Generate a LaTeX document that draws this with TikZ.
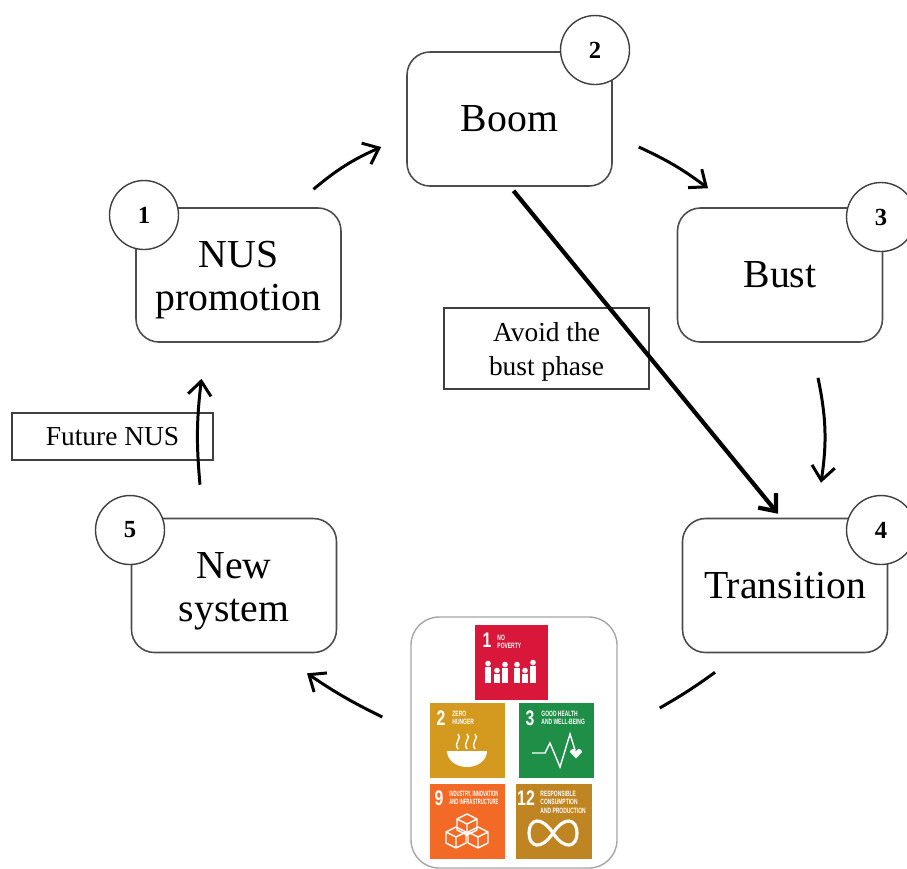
\documentclass[tikz,border=0pt]{standalone}
\usepackage{fontspec}
\setmainfont{Liberation Serif}
\newfontfamily\sdgfont{Liberation Sans}
\usetikzlibrary{arrows.meta}
\definecolor{sdgred}{HTML}{D9173A}
\definecolor{sdggold}{HTML}{D39A1F}
\definecolor{sdggreen}{HTML}{1F8F48}
\definecolor{sdgorange}{HTML}{F26A25}
\definecolor{sdgbrown}{HTML}{BF8522}
\tikzset{
    phase/.style={draw=black!70,line width=0.45pt,rounded corners=2.3mm,minimum width=2.05cm,minimum height=1.34cm,align=center,font=\fontsize{11.3}{12.2}\selectfont,inner sep=0pt},
    badge/.style={draw=black!75,fill=white,circle,line width=0.4pt,minimum size=0.69cm,inner sep=0pt,font=\fontsize{7}{8}\selectfont\bfseries},
    note/.style={draw=black!75,line width=0.4pt,align=center,inner sep=0pt,font=\fontsize{7.8}{9.6}\selectfont},
    flow/.style={line width=0.85pt,-{Straight Barb[length=1.4mm,width=2.3mm]}},
    sdg/.style={minimum width=#1,minimum height=0.75cm,inner sep=0pt},
    sdgnum/.style={text=white,inner sep=0pt,xscale=0.75,transform shape,font=\sdgfont\fontsize{6}{6}\selectfont\bfseries},
    sdgtext/.style={text=white,inner sep=0pt,anchor=north west,align=left,xscale=0.64,transform shape,font=\sdgfont\fontsize{2.2}{2.45}\selectfont\bfseries},
    icon/.style={white,line width=0.4pt}
}
\begin{document}
\begin{tikzpicture}
    \useasboundingbox (0,0) rectangle (9.07,-8.68);
    % The five phases of the cycle
    \node[phase] (boom) at (5.095,-1.19) {Boom};
    \node[phase] (bust) at (7.80,-2.75) {Bust};
    \node[phase] (transition) at (7.85,-5.855) {Transition};
    \node[phase] (newsystem) at (2.34,-5.855) {\rule{0pt}{10.6pt}New\\system};
    \node[phase] (nus) at (2.385,-2.75) {\rule{0pt}{10.4pt}NUS\\promotion};
    % Numbered circles on the corners
    \node[badge] (badgeone) at (1.44,-2.15) {1};
    \node[badge] (badgetwo) at (5.95,-0.50) {2};
    \node[badge] (badgethree) at (8.81,-2.17) {3};
    \node[badge] (badgefour) at (8.81,-5.30) {4};
    \node[badge] (badgefive) at (1.30,-5.30) {5};
    % Side notes
    \node[note,minimum width=2.05cm,minimum height=0.81cm] (avoid) at (5.465,-3.485) {\rule{0pt}{7.5pt}Avoid the\\bust phase};
    \node[note,minimum width=2.01cm,minimum height=0.47cm] (future) at (1.125,-4.365) {Future NUS};
    % Panel with the goals
    \node[draw=black!35,line width=0.4pt,rounded corners=2.8mm,minimum width=2.06cm,minimum height=2.51cm] (goals) at (5.14,-7.425) {};
    \node[sdg=0.73cm,fill=sdgred] (goalone) at (5.115,-6.625) {};
    \node[sdg=0.75cm,fill=sdggold] (goaltwo) at (4.675,-7.405) {};
    \node[sdg=0.75cm,fill=sdggreen] (goalthree) at (5.565,-7.405) {};
    \node[sdg=0.75cm,fill=sdgorange] (goalnine) at (4.675,-8.215) {};
    \node[sdg=0.76cm,fill=sdgbrown] (goaltwelve) at (5.54,-8.215) {};
    % Numbers and titles of the goals
    \node[sdgnum] (numone) at (4.87,-6.40) {1};
    \node[sdgtext] (titleone) at (4.97,-6.34) {NO\\POVERTY};
    \node[sdgnum] (numtwo) at (4.41,-7.18) {2};
    \node[sdgtext] (titletwo) at (4.52,-7.10) {ZERO\\HUNGER};
    \node[sdgnum] (numthree) at (5.30,-7.18) {3};
    \node[sdgtext] (titlethree) at (5.41,-7.10) {GOOD HEALTH\\AND WELL-BEING};
    \node[sdgnum] (numnine) at (4.39,-7.98) {9};
    \node[sdgtext,xscale=0.85] (titlenine) at (4.49,-7.90) {INDUSTRY, INNOVATION\\AND INFRASTRUCTURE};
    \node[sdgnum] (numtwelve) at (5.26,-7.98) {12};
    \node[sdgtext] (titletwelve) at (5.40,-7.90) {RESPONSIBLE\\CONSUMPTION\\AND PRODUCTION};
    % Family on goal 1
    \foreach \px/\ph in {4.88/0.16,4.97/0.09,5.05/0.15,5.17/0.15,5.25/0.09,5.33/0.17} {
        \fill[white] (\px,-6.83) ++(0,\ph+0.035) circle (0.028);
        \fill[white] (\px-0.03,-6.83) rectangle ++(0.06,\ph);
    }
    % Bowl on goal 2
    \fill[white] (4.47,-7.51) -- (4.87,-7.51) arc (0:-180:0.2 and 0.16) -- cycle;
    \foreach \px in {4.58,4.67,4.75}
        \draw[icon] (\px,-7.49) .. controls (\px-0.05,-7.42) and (\px+0.05,-7.38) .. (\px,-7.34);
    % Pulse and heart on goal 3
    \draw[icon] (5.32,-7.53) -- (5.45,-7.53) -- (5.50,-7.43) -- (5.60,-7.67) -- (5.70,-7.34) -- (5.75,-7.50);
    \fill[white] (5.76,-7.585) -- (5.70,-7.52) arc (180:0:0.03) arc (180:0:0.03) -- cycle;
    % Cubes on goal 9
    \foreach \px/\py in {4.67/-8.24,4.56/-8.37,4.78/-8.37} {
        \draw[icon,line join=round] (\px,\py) -- ++(0.1,0.05) -- ++(-0.1,0.05) -- ++(-0.1,-0.05) -- cycle
            (\px-0.1,\py+0.05) -- ++(0,-0.11) -- ++(0.1,-0.05) -- ++(0.1,0.05) -- ++(0,0.11)
            (\px,\py) -- ++(0,-0.11);
    }
    % Loop on goal 12
    \draw[white,line width=0.9pt] (5.53,-8.33) .. controls (5.41,-8.15) and (5.29,-8.19) .. (5.29,-8.33)
        .. controls (5.29,-8.47) and (5.41,-8.51) .. (5.53,-8.33)
        .. controls (5.65,-8.15) and (5.77,-8.19) .. (5.77,-8.33)
        .. controls (5.77,-8.47) and (5.65,-8.51) .. (5.53,-8.33);
    % Arrows around the cycle
    \draw[flow] ([shift={(0.75,0.18)}]nus.north) to[bend left=8] ([shift={(-0.25,-0.28)}]boom.west);
    \draw[flow] ([shift={(0.26,-0.28)}]boom.east) to[bend left=6] ([shift={(-0.72,0.19)}]bust.north);
    \draw[flow] ([shift={(0.38,-0.35)}]bust.south) to[bend left=10] ([shift={(0.36,0.35)}]transition.north);
    \draw[line width=0.85pt] ([shift={(-0.7,-0.19)}]transition.south) to[bend left=3] ([shift={(0.42,0.345)}]goals.east);
    \draw[flow] ([shift={(-0.28,0.255)}]goals.west) to[bend left=4] ([shift={(0.73,-0.2)}]newsystem.south);
    \draw[flow] ([shift={(-0.34,0.33)}]newsystem.north) to[bend left=6] ([shift={(-0.37,-0.36)}]nus.south);
    % Shortcut from the boom to the transition
    \draw[line width=1.2pt,-{Straight Barb[length=1.4mm,width=2.3mm]}] ([shift={(0.04,-0.04)}]boom.south) -- ([shift={(-0.07,0.04)}]transition.north);
\end{tikzpicture}
\end{document}
